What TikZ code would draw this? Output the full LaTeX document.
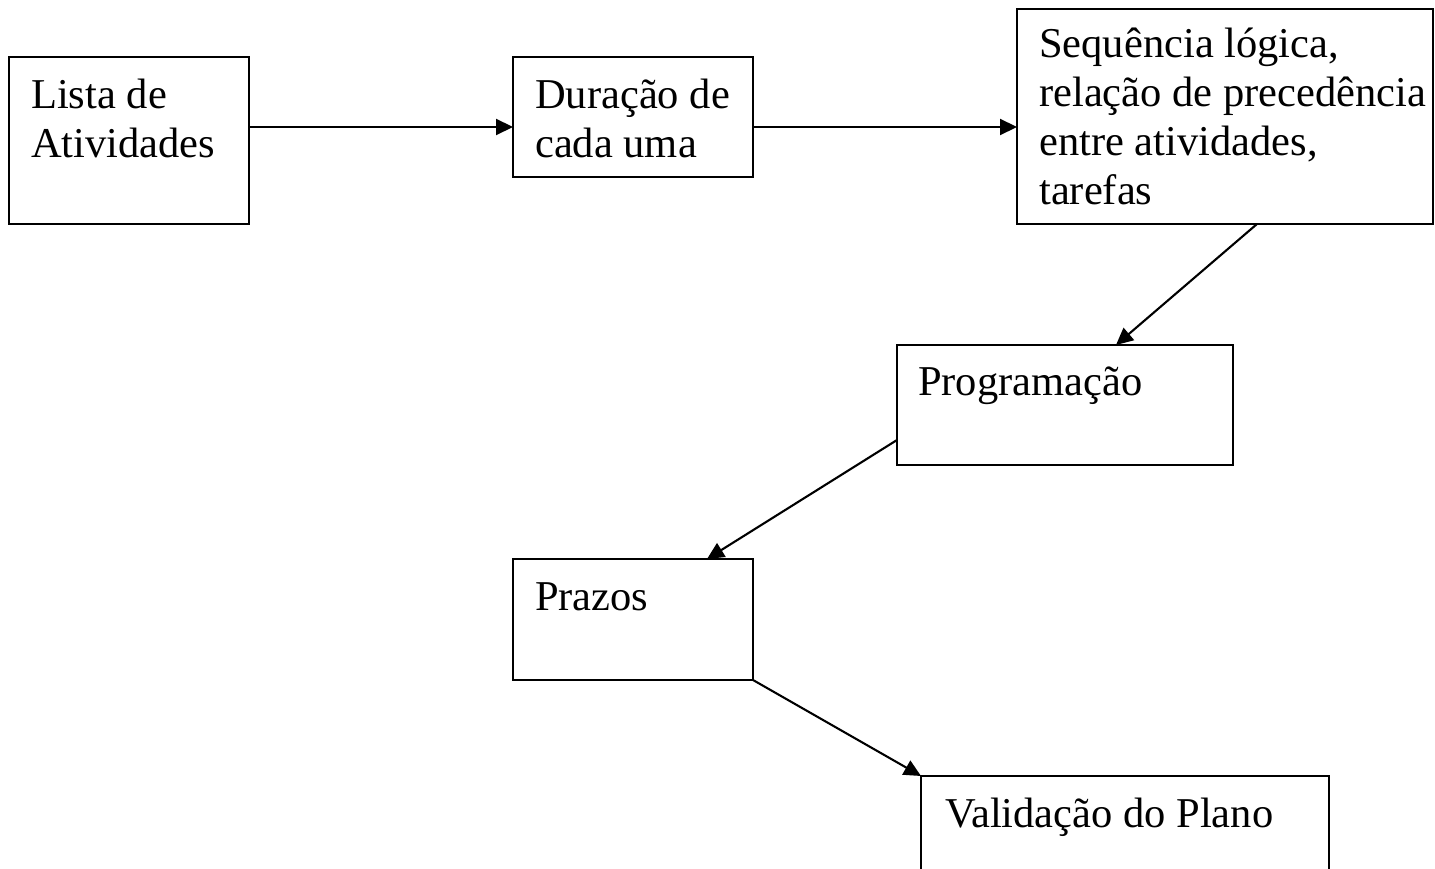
\documentclass[tikz,border=0pt]{standalone}
\usepackage{fontspec}
\setmainfont{Liberation Serif}
\usetikzlibrary{arrows.meta}
\newcommand{\boxtext}[1]{\begin{tabular}[t]{@{}l@{}}#1\end{tabular}}
\begin{document}
\begin{tikzpicture}[x=1pt,y=-1pt,
  box/.style={draw,line width=2.7pt,anchor=north west,inner sep=0pt,outer sep=0pt},
  txt/.style={anchor=base west,inner sep=0pt,font=\fontsize{42.5}{49}\selectfont},
  conn/.style={line width=2.1pt,-{Triangle[length=17pt,width=16pt]}}]
\useasboundingbox (0,0) rectangle (1435,869);
\clip (0,0) rectangle (1435,869);
\node[box,minimum width=240pt,minimum height=167pt] (b1) at (9,57) {};
\node[box,minimum width=240pt,minimum height=120pt] (b2) at (513,57) {};
\node[box,minimum width=416pt,minimum height=215pt] (b3) at (1017,9) {};
\node[box,minimum width=336pt,minimum height=120pt] (b4) at (897,345) {};
\node[box,minimum width=240pt,minimum height=121pt] (b5) at (513,559) {};
\node[box,minimum width=408pt,minimum height=140pt] (b6) at (921,776) {};
\node[txt] (t1) at (31,109) {\boxtext{Lista de\\Atividades}};
\node[txt] (t2) at (535,109) {\boxtext{Duração de\\cada uma}};
\node[txt] (t3) at (1039,58) {\boxtext{Sequência lógica,\\relação de precedência\\entre atividades,\\tarefas}};
\node[txt] (t4) at (918,395) {Programação};
\node[txt] (t5) at (535,610) {Prazos};
\node[txt] (t6) at (945,827) {Validação do Plano};
\draw[conn] ([yshift=-70pt]b1.north east) -- ([yshift=-70pt]b2.north west);
\draw[conn] ([yshift=-70pt]b2.north east) -- ([yshift=-118pt]b3.north west);
\draw[conn] ([xshift=240pt]b3.south west) -- ([xshift=219pt]b4.north west);
\draw[conn] ([yshift=-95pt]b4.north west) -- ([xshift=194pt]b5.north west);
\draw[conn] (b5.south east) -- (b6.north west);
\end{tikzpicture}
\end{document}
